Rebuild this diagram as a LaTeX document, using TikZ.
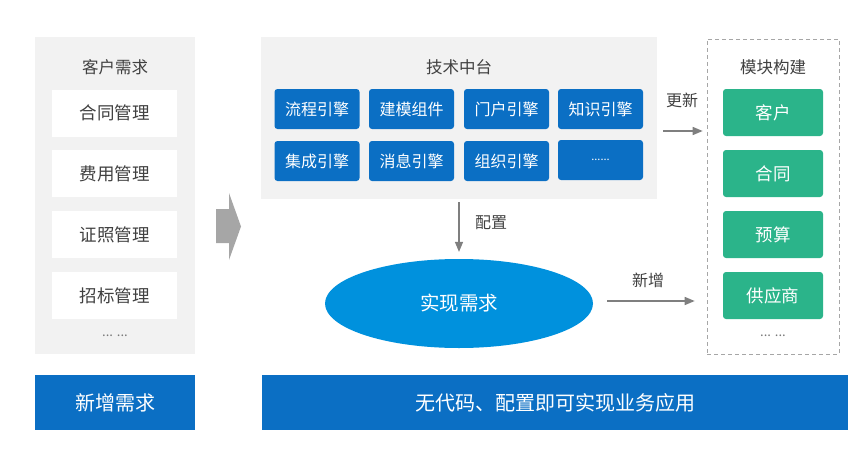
\documentclass[tikz,border=0pt]{standalone}
\usepackage{fontspec}
\newfontfamily\cjk{Noto Sans CJK SC}
\usepackage{tikz}
\usetikzlibrary{arrows}
\usetikzlibrary{shapes.geometric}

\definecolor{panelgray}{HTML}{F2F2F2}
\definecolor{textgray}{HTML}{404040}
\definecolor{linegray}{HTML}{7F7F7F}
\definecolor{arrowgray}{HTML}{A6A6A6}
\definecolor{barblue}{HTML}{0B6FC4}
\definecolor{goalblue}{HTML}{0091DD}
\definecolor{modgreen}{HTML}{2BB48A}

\begin{document}
\begin{tikzpicture}[x=1pt, y=-1pt, font=\cjk]
    \tikzset{panel/.style = {fill=panelgray, inner sep=0, minimum width=#1}}
    \tikzset{title/.style = {text=textgray, font=\cjk\fontsize{16.5}{18}\selectfont}}
    \tikzset{need/.style = {fill=white, text=textgray, inner sep=0, minimum width=125, minimum height=47,
                            font=\cjk\fontsize{17.5}{19}\selectfont}}
    \tikzset{engine/.style = {fill=barblue, rounded corners=3, text=white, inner sep=0, minimum width=85,
                              minimum height=40, font=\cjk\fontsize{16}{18}\selectfont}}
    \tikzset{module/.style = {fill=modgreen, rounded corners=3, text=white, inner sep=0, minimum width=100,
                              minimum height=47, font=\cjk\fontsize{17.5}{19}\selectfont}}
    \tikzset{bar/.style = {fill=barblue, text=white, inner sep=0, minimum height=55,
                           font=\cjk\fontsize{20}{22}\selectfont}}
    \tikzset{more/.style = {text=textgray!70, font=\cjk\fontsize{13}{13}\selectfont}}
    \tikzset{lbl/.style = {text=textgray, font=\cjk\fontsize{16}{18}\selectfont}}
    \tikzset{edge/.style = {->, > = triangle 45, draw=linegray, line width=1.3pt}}

    \useasboundingbox (0,0) rectangle (865,455);

    % customer needs
    \node[panel=160, minimum height=317] (req) at (115,195.5) {};
    \node[title] (reqtitle) at (115,67) {客户需求};
    \node[need] (contract) at (114.5,113) {合同管理};
    \node[need] (cost) at (114.5,173.5) {费用管理};
    \node[need] (license) at (114.5,234.5) {证照管理};
    \node[need] (bidding) at (114.5,295.5) {招标管理};
    \node[more] (reqmore) at (115,336) {... ...};
    \node[bar, minimum width=160] (newreq) at (115,402.5) {新增需求};

    % big arrow
    \fill[arrowgray] (216,209) -- (229,209) -- (229,193) -- (241,226.5) -- (229,260)
        -- (229,243) -- (216,243) -- cycle;

    % technology platform
    \node[panel=396, minimum height=162] (tech) at (459,118) {};
    \node[title] (techtitle) at (459,67) {技术中台};
    \node[engine] (flow) at (317,109) {流程引擎};
    \node[engine] (model) at (411.5,109) {建模组件};
    \node[engine] (portal) at (506.5,109) {门户引擎};
    \node[engine] (know) at (600.5,109) {知识引擎};
    \node[engine] (integ) at (317,161) {集成引擎};
    \node[engine] (msg) at (411.5,161) {消息引擎};
    \node[engine] (org) at (506.5,161) {组织引擎};
    \node[engine, font=\cjk\fontsize{11}{11}\selectfont] (etc) at (600.5,160) {......};

    % goal
    \node[ellipse, fill=goalblue, text=white, inner sep=0, minimum width=268, minimum height=89,
          font=\cjk\fontsize{19.5}{21}\selectfont] (goal) at (459,303.5) {实现需求};
    \node[lbl] (config) at (491,223) {配置};
    \node[bar, minimum width=586] (nocode) at (555,402.5) {无代码、配置即可实现业务应用};

    % modules
    \node[draw=arrowgray, dash pattern=on 4pt off 3pt, line width=0.8pt, inner sep=0,
          minimum width=132, minimum height=315] (mods) at (773,196.5) {};
    \node[title] (modtitle) at (773,67) {模块构建};
    \node[module] (customer) at (773,112.5) {客户};
    \node[module] (deal) at (773,173.5) {合同};
    \node[module] (budget) at (773,234.5) {预算};
    \node[module] (supplier) at (773,295.5) {供应商};
    \node[more] (modmore) at (773,336) {... ...};
    \node[lbl] (update) at (682,100) {更新};
    \node[lbl] (add) at (648,280) {新增};

    % edges
    \coordinate (upd) at (663,131);
    \coordinate (addstart) at (607,301);
    \draw[edge, shorten <=3pt, shorten >=7pt] (tech) -- (goal);
    \draw[edge, shorten >=4pt] (upd) -- (upd -| mods.west);
    \draw[edge, shorten >=12pt] (addstart) -- (addstart -| mods.west);
\end{tikzpicture}
\end{document}
